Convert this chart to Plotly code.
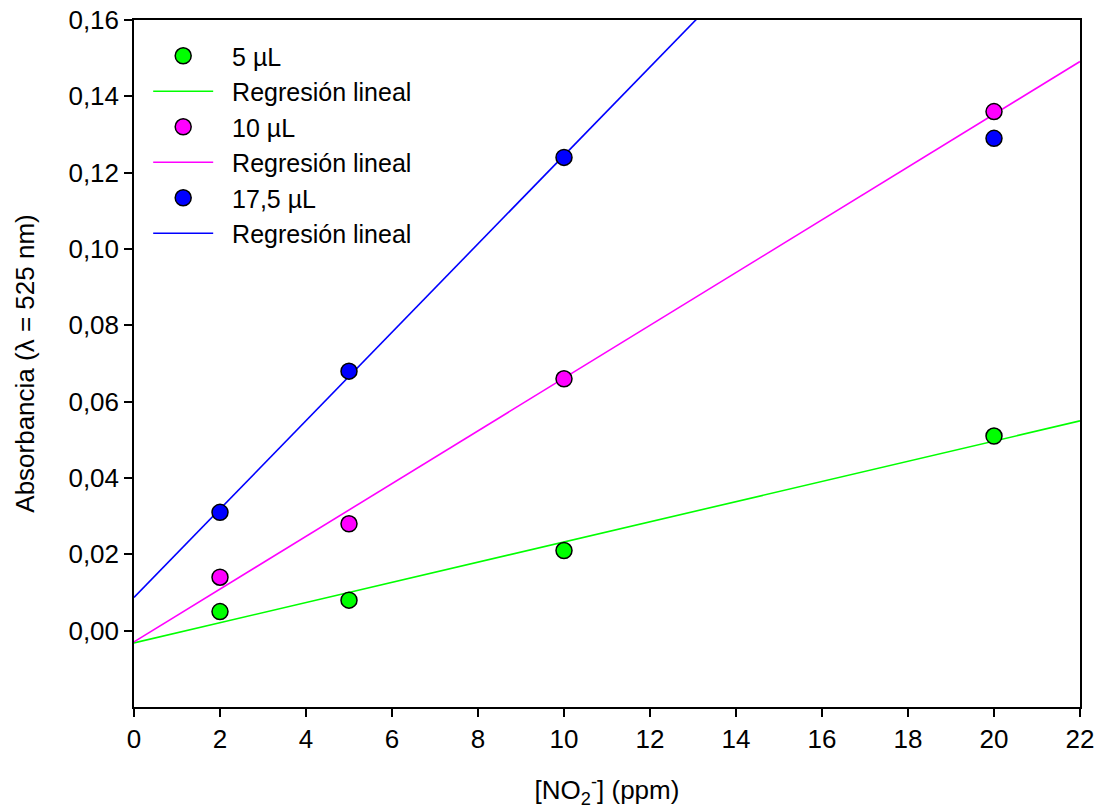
import numpy as np
import plotly.graph_objects as go

# Nitrite concentration (ppm) and measured absorbance at 525 nm
conc = [2, 5, 10, 20]
abs_5uL = [0.005, 0.008, 0.021, 0.051]
abs_10uL = [0.014, 0.028, 0.066, 0.136]
abs_17uL = [0.031, 0.068, 0.124, 0.129]

series_names = ["5 µL", "10 µL", "17,5 µL"]
series_colors = ["#00ff00", "#ff00ff", "#0000ff"]
# number of points used for each linear fit (the 17,5 µL fit leaves out the saturated 20 ppm point)
fit_points = [4, 4, 3]

y_ticks = [0.00, 0.02, 0.04, 0.06, 0.08, 0.10, 0.12, 0.14, 0.16]
x_ticks = list(range(0, 23, 2))

FONT = "Liberation Sans, Arial, sans-serif"
FS = 26
PAD = "\u00a0\u00a0"  # small gap between legend symbol and label

fig = go.Figure()
x_line = np.array([0.0, 22.0])
rank = 1
for i, (name, color, ys, n) in enumerate(zip(series_names, series_colors,
                                              [abs_5uL, abs_10uL, abs_17uL], fit_points)):
    slope, intercept = np.polyfit(conc[:n], ys[:n], 1)
    fig.add_trace(go.Scatter(
        x=x_line, y=slope * x_line + intercept, mode="lines",
        line=dict(color=color, width=1.6), name=PAD + "Regresión lineal",
        legendgroup=f"g{i}b", legendrank=rank + 1, showlegend=True,
    ))
    fig.add_trace(go.Scatter(
        x=conc, y=ys, mode="markers", name=PAD + name,
        marker=dict(color=color, size=16, line=dict(color="black", width=1.5)),
        legendgroup=f"g{i}a", legendrank=rank, cliponaxis=False,
    ))
    rank += 2

axis_common = dict(
    showline=True, linecolor="black", linewidth=1.5, mirror=True,
    ticks="outside", ticklen=8, tickwidth=1.5, tickcolor="black",
    showgrid=False, zeroline=False, automargin=False,
    tickfont=dict(family=FONT, size=FS, color="black"),
)

fig.update_layout(
    width=1101, height=812,
    margin=dict(l=134, r=21, t=20, b=105),
    paper_bgcolor="white", plot_bgcolor="white",
    separators=",.",
    font=dict(family=FONT, size=FS, color="black"),
    xaxis=dict(range=[0, 22], tickvals=x_ticks,
               title=dict(text="[NO<sub>2</sub><sup>-</sup>] (ppm)", standoff=28,
                          font=dict(family=FONT, size=FS)),
               **axis_common),
    yaxis=dict(range=[-0.02, 0.16], tickvals=y_ticks, tickformat=".2f",
               title=dict(text="Absorbancia (λ = 525 nm)", standoff=26,
                          font=dict(family=FONT, size=FS)),
               **axis_common),
    legend=dict(x=0.015, y=0.981, xanchor="left", yanchor="top",
                bgcolor="rgba(0,0,0,0)", tracegroupgap=0, itemwidth=60,
                font=dict(family=FONT, size=25, color="black")),
)

fig.write_html("out.html")
